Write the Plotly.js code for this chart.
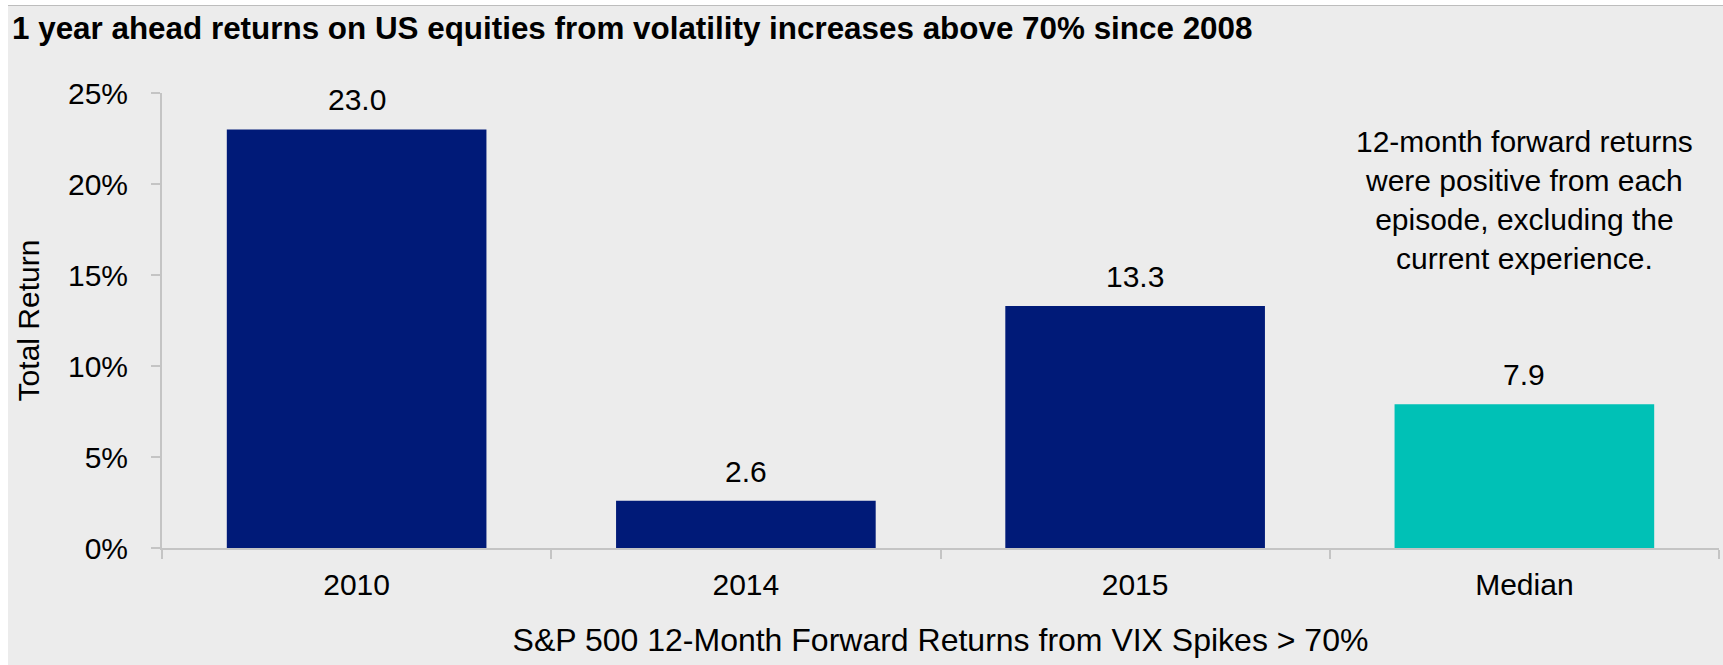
<!DOCTYPE html>
<html>
<head>
<meta charset="utf-8">
<script src="https://cdn.plot.ly/plotly-3.0.1.min.js"></script>
<style>
  html, body { margin: 0; padding: 0; background: #ffffff; width: 1723px; height: 665px; overflow: hidden; }
  #frame { position: absolute; left: 8px; top: 5px; width: 1715px; height: 659px; border-top: 1px solid #bdbdbd; background: #ececec; }
  #chart { width: 1715px; height: 659px; }
</style>
</head>
<body>
<div id="frame"><div id="chart"></div></div>
<script>
const categories = ['2010', '2014', '2015', 'Median'];
const returnsPct = [23.0, 2.6, 13.3, 7.9];
const labelTexts = ['23.0', '2.6', '13.3', '7.9'];
const barColors = ['#001a78', '#001a78', '#001a78', '#00c1b6'];
const yTickVals = [0, 5, 10, 15, 20, 25];
const yTickText = ['0%', '5%', '10%', '15%', '20%', '25%'];
const chartTitle = '1 year ahead returns on US equities from volatility increases above 70% since 2008';
const xTitle = 'S&P 500 12-Month Forward Returns from VIX Spikes > 70%';
const yTitle = 'Total Return';
const noteText = '12-month forward returns<br>were positive from each<br>episode, excluding the<br>current experience.';

const FONT = '"Liberation Sans", Arial, sans-serif';

const trace = {
  type: 'bar',
  x: categories,
  y: returnsPct,
  marker: { color: barColors, line: { width: 0 } },
  hoverinfo: 'skip'
};

// category axis: annotation x given as category index
const labelAnnotations = categories.map((c, i) => ({
  x: i, y: returnsPct[i], xref: 'x', yref: 'y',
  text: labelTexts[i], showarrow: false,
  xanchor: 'center', yanchor: 'bottom', yshift: 11,
  font: { family: FONT, size: 30, color: '#000000' }
}));

const layout = {
  width: 1715, height: 659,
  paper_bgcolor: '#ececec', plot_bgcolor: '#ececec',
  margin: { l: 154, r: 4, t: 87, b: 117, pad: 0 },
  showlegend: false,
  bargap: 0.333,
  font: { family: FONT, size: 30, color: '#000000' },
  title: {
    text: '<b>' + chartTitle + '</b>',
    font: { family: FONT, size: 31.4, color: '#000000' },
    xref: 'container', yref: 'container',
    x: 4 / 1715, xanchor: 'left',
    y: 1 - 22 / 659, yanchor: 'middle'
  },
  xaxis: {
    type: 'category',
    range: [-0.5, categories.length - 0.5],
    showline: true, linecolor: '#c4c4c4', linewidth: 2,
    ticks: 'outside', tickson: 'boundaries', ticklen: 9, tickwidth: 2, tickcolor: '#c4c4c4',
    showgrid: false, zeroline: false,
    tickfont: { family: FONT, size: 30, color: '#000000' },
    ticklabelstandoff: 9,
    title: { text: xTitle, font: { family: FONT, size: 32, color: '#000000' }, standoff: 29 }
  },
  yaxis: {
    range: [0, 25],
    tickvals: yTickVals, ticktext: yTickText,
    showline: true, linecolor: '#c4c4c4', linewidth: 2,
    ticks: 'outside', ticklen: 9, tickwidth: 2, tickcolor: '#c4c4c4',
    showgrid: false, zeroline: false,
    tickfont: { family: FONT, size: 30, color: '#000000' },
    ticklabelstandoff: 17,
    title: { text: yTitle, font: { family: FONT, size: 30, color: '#000000' }, standoff: 19 }
  },
  annotations: labelAnnotations.concat([{
    x: categories.length - 1, y: 19.1, xref: 'x', yref: 'y',
    text: noteText, showarrow: false,
    xanchor: 'center', yanchor: 'middle', align: 'center',
    font: { family: FONT, size: 30, color: '#000000' }
  }])
};

Plotly.newPlot('chart', [trace], layout, { displayModeBar: false, staticPlot: true });
</script>
</body>
</html>
